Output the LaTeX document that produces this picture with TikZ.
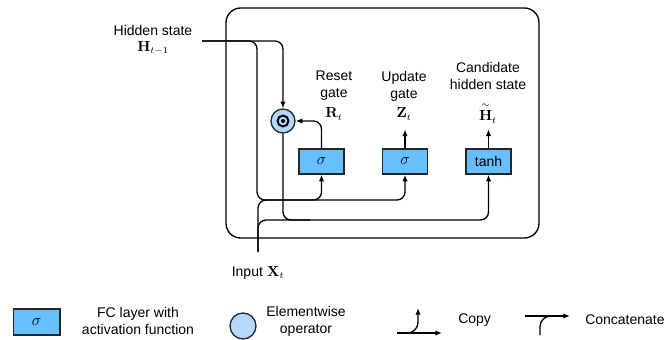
\documentclass[tikz,border=0pt]{standalone}
\usepackage{amsmath}
\usepackage[no-math]{fontspec}
\setmainfont{Liberation Sans}
\usetikzlibrary{arrows.meta}
\definecolor{fcblue}{HTML}{66BFFF}
\definecolor{opblue}{HTML}{B3D9FF}
\begin{document}
\begin{tikzpicture}[x=0.75pt,y=-0.75pt,
  font=\fontsize{10.5}{12.75}\selectfont,
  conn/.style={line width=1pt, rounded corners=6pt},
  arr/.style={conn, -{Latex[length=5pt,width=4pt]}},
  fc/.style={draw=black!85, fill=fcblue, line width=1pt, minimum width=33.75pt, minimum height=18.75pt, inner sep=0pt, font=\fontsize{12}{12}\selectfont},
  op/.style={circle, draw=black!85, fill=opblue, line width=1pt, minimum size=18pt, inner sep=0pt},
  lbl/.style={align=center, inner sep=0pt}]
\useasboundingbox (0,0) rectangle (666,339);
% main cell
\draw[line width=1pt, rounded corners=11pt] (226,8) rectangle (539,238);
% nodes
\node[fc] (reset) at (321.5,161.5) {$\sigma$};
\node[fc] (update) at (405,161.5) {$\sigma$};
\node[fc, font=\fontsize{10.5}{12}\selectfont] (cand) at (488.5,161.5) {tanh};
\node[op] (had) at (283,121) {};
\draw[line width=1.5pt] (had) circle (4.1pt);
\fill (had) circle (1.5pt);
\coordinate (hin) at (202,41);
\coordinate (xin) at (258,252);
% connectors
\draw[arr] (hin) -- (had.north |- hin) -- (had.north);
\draw[conn] (hin) -- (257,41) -- (257,200) -- (300,200);
\draw[arr] (xin) -- (258,200) -- (reset.south |- 0,200) -- (reset.south);
\draw[arr] (300,200) -- (update.south |- 0,200) -- (update.south);
\draw[arr] (xin) -- (258,220) -- (cand.south |- 0,220) -- (cand.south);
\draw[conn] (had.south) -- (had.south |- 0,220) -- (310,220);
\draw[arr] (reset.north) -- (reset.north |- had.east) -- (had.east);
\draw[arr] (update.north) -- ++(0,-19);
\draw[arr] (cand.north) -- ++(0,-19);
% labels
\node[lbl] (hl) at (153,30) {Hidden state};
\node[lbl] (hs) at (153,48) {$\mathbf{H}_{t-1}$};
\node[lbl] (rl) at (334,86) {Reset\\gate};
\node[lbl] (rs) at (334,114) {$\mathbf{R}_t$};
\node[lbl] (ul) at (404,86) {Update\\gate};
\node[lbl] (us) at (404,114) {$\mathbf{Z}_t$};
\node[lbl] (cl) at (488,76) {Candidate\\hidden state};
\node[lbl] (cs) at (488,113) {$\overset{\sim}{\mathbf{H}}_t$};
\node[lbl] (il) at (258,273) {Input $\mathbf{X}_t$};
% legend
\node[fc, minimum width=35pt, minimum height=19.5pt] (lfc) at (36.5,322) {$\sigma$};
\node[lbl] (lfct) at (138,321) {FC layer with\\activation function};
\node[op, minimum size=19.5pt] (lop) at (243,326) {};
\node[lbl] (lopt) at (306,321) {Elementwise\\operator};
\coordinate (cpa) at (397,333);
\coordinate (cpb) at (442,333);
\coordinate (cpc) at (418,308);
\draw[arr] (cpa) -- (cpb);
\draw[arr, rounded corners=8pt] (cpa) -- (cpc |- cpa) -- (cpc);
\node[lbl, anchor=west] (lcp) at (458,320) {Copy};
\coordinate (cca) at (525,316);
\coordinate (ccb) at (570,316);
\coordinate (ccc) at (540,335);
\draw[arr] (cca) -- (ccb);
\draw[conn, rounded corners=8pt] (ccc) -- (ccc |- cca) -- (555,316);
\node[lbl, anchor=west] (lcc) at (585,320) {Concatenate};
\end{tikzpicture}
\end{document}
